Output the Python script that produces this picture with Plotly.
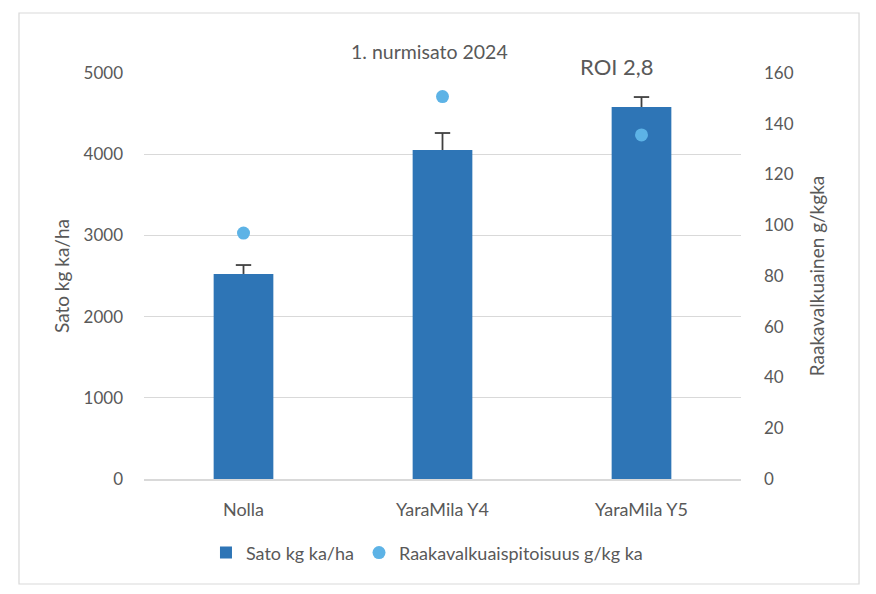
import plotly.graph_objects as go

categories = ["Nolla", "YaraMila Y4", "YaraMila Y5"]
sato = [2525, 4052, 4581]
sato_err = [110, 209, 123]
raakavalkuainen = [96.9, 150.7, 135.6]

FONT = "Lato"
GRAY = "#595959"
ERR = "#404040"

err_tops = [v + e for v, e in zip(sato, sato_err)]

fig = go.Figure()
fig.add_trace(go.Bar(
    x=categories, y=sato, name="Sato kg ka/ha",
    marker=dict(color="#2E75B6", line=dict(width=0)),
    width=0.3,
    error_y=dict(type="data", symmetric=False, array=sato_err,
                 arrayminus=[0, 0, 0], color=ERR, thickness=1.8, width=0),
    yaxis="y",
))
fig.add_trace(go.Scatter(
    x=categories, y=err_tops, mode="markers", showlegend=False, hoverinfo="skip",
    marker=dict(symbol="line-ew", size=11, line=dict(color=ERR, width=1.8)),
    yaxis="y",
))
fig.add_trace(go.Scatter(
    x=categories, y=raakavalkuainen, name="Raakavalkuaispitoisuus g/kg ka",
    mode="markers", marker=dict(color="#5DB3E6", size=13, symbol="circle"),
    yaxis="y2",
))

fig.update_layout(
    width=876, height=594,
    margin=dict(l=136, r=143, t=65, b=123),
    paper_bgcolor="white", plot_bgcolor="white",
    font=dict(family=FONT, color=GRAY, size=17),
    showlegend=True,
    legend=dict(orientation="h", x=0.474, xanchor="center", y=-0.182, yanchor="middle",
                font=dict(size=18, color=GRAY), itemwidth=30, traceorder="normal"),
    xaxis=dict(showline=True, linecolor="#d9d9d9", linewidth=1.5, ticks="",
               tickfont=dict(size=18, color=GRAY), ticklabelstandoff=14),
    yaxis=dict(range=[0, 5000], dtick=1000, showgrid=True, gridcolor="#d9d9d9",
               gridwidth=1.2, zeroline=False, showline=False, ticks="",
               tickfont=dict(size=17, color=GRAY), tickformat="d",
               ticklabelstandoff=20,
               title=dict(text="Sato kg ka/ha", font=dict(size=19, color=GRAY), standoff=8)),
    yaxis2=dict(range=[0, 160], dtick=20, overlaying="y", side="right",
                showgrid=False, zeroline=False, showline=False, ticks="",
                tickfont=dict(size=17, color=GRAY), ticklabelstandoff=22,
                title=dict(text="Raakavalkuainen g/kgka", font=dict(size=19, color=GRAY), standoff=17)),
    shapes=[dict(type="rect", xref="paper", yref="paper",
                 x0=-0.2094, x1=1.1977, y0=-0.2586, y1=1.1478,
                 line=dict(color="#d9d9d9", width=1.2), fillcolor="rgba(0,0,0,0)", layer="below")],
    annotations=[
        dict(text="1. nurmisato 2024", xref="paper", yref="paper", x=0.479, y=1.054,
             xanchor="center", yanchor="middle", showarrow=False,
             font=dict(size=19.5, color=GRAY)),
        dict(text="ROI 2,8", xref="paper", yref="paper", x=0.792, y=1.017,
             xanchor="center", yanchor="middle", showarrow=False,
             font=dict(size=22, color=GRAY)),
    ],
)

fig.write_html("out.html")
